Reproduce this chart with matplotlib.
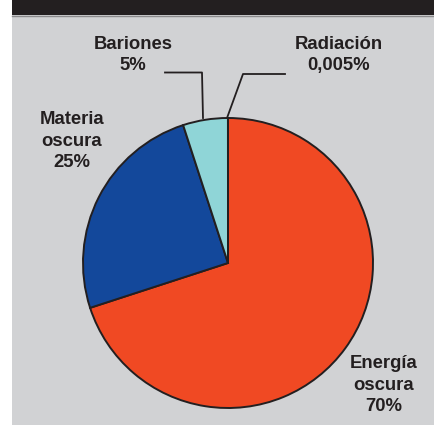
import matplotlib
matplotlib.use("Agg")
import matplotlib.pyplot as plt
from matplotlib.patches import Rectangle

labels = ["Energía\noscura\n70%", "Materia\noscura\n25%", "Bariones\n5%", "Radiación\n0,005%"]
values = [70, 25, 5, 0.005]
colors = ["#F04923", "#13489B", "#8FD5D7", "#F5F0A0"]

W, H = 434, 425
fig = plt.figure(figsize=(W / 100, H / 100), dpi=100)
fig.patch.set_facecolor("white")
ax = fig.add_axes([0, 0, 1, 1])
ax.set_xlim(0, W)
ax.set_ylim(0, H)
ax.set_aspect("equal")
ax.axis("off")

def Y(y):
    return H - y

# background
ax.add_patch(Rectangle((12, 0), W - 12, H - 15, facecolor="#D1D2D4", edgecolor="none", zorder=0))
ax.add_patch(Rectangle((12, H - 15), W - 12, 15, facecolor="#231F20", edgecolor="none", zorder=0))
ax.plot([12, W], [H - 15.5, H - 15.5], color="#8A8A8C", lw=1, zorder=0.5)

cx, cy, r = 228, Y(263), 145
wedges, _ = ax.pie(values, colors=colors, startangle=90, counterclock=False,
                   center=(cx, cy), radius=r,
                   wedgeprops=dict(edgecolor="#231F20", linewidth=1.4))
ax.set_xlim(0, W)
ax.set_ylim(0, H)

font = dict(family=["Liberation Sans", "DejaVu Sans"], fontweight="bold",
            fontsize=13.3, color="#231F20", ha="center", va="center", linespacing=1.38)

ax.text(384, Y(385), labels[0], **font)
ax.text(72, Y(141), labels[1], **font)
ax.text(133, Y(55), labels[2], **font)
ax.text(339, Y(55), labels[3], **font)

# leader lines
ax.plot([165, 202, 203], [Y(72.5), Y(72.5), Y(118)], color="#231F20", lw=1.3)
ax.plot([285, 243, 227], [Y(74), Y(74), Y(118)], color="#231F20", lw=1.3)

fig.savefig("out.png", dpi=100)
